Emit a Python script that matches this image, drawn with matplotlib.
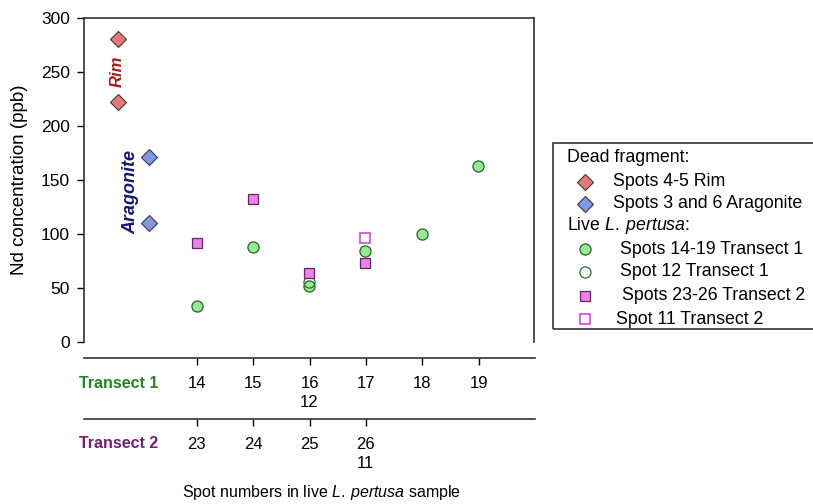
import matplotlib
matplotlib.use("Agg")
import matplotlib.pyplot as plt
from matplotlib.lines import Line2D
from matplotlib.patches import Rectangle

plt.rcParams['font.family'] = ['Liberation Sans', 'DejaVu Sans']
plt.rcParams['mathtext.fontset'] = 'custom'
plt.rcParams['mathtext.rm'] = 'Liberation Sans'
plt.rcParams['mathtext.it'] = 'Liberation Sans:italic'

# data
rim_x = [12.6, 12.6]
rim_y = [281, 222]
arag_x = [13.15, 13.15]
arag_y = [171, 110]
t1_x = [14, 15, 16, 17, 18, 19]
t1_y = [33, 88, 52, 84, 100, 163]
spot12_x = [16]
spot12_y = [56]
t2_x = [14, 15, 16, 17]
t2_y = [92, 132, 64, 73]
spot11_x = [17]
spot11_y = [96]

t1_ticks = [14, 15, 16, 17, 18, 19]
t1_labels = ['14', '15', '16\n12', '17', '18', '19']
t2_ticks = [14, 15, 16, 17]
t2_labels = ['23', '24', '25', '26\n11']

W, H = 813, 504
fig = plt.figure(figsize=(W / 100, H / 100), dpi=100)


def fx(px):
    return px / W


def fy(py):
    return 1 - py / H


ax = fig.add_axes([fx(84), fy(342), fx(534) - fx(84), fy(18) - fy(342)])
ax.set_xlim(12, 20)
ax.set_ylim(0, 300)
ax.spines['bottom'].set_visible(False)
for s in ['left', 'top', 'right']:
    ax.spines[s].set_linewidth(1.2)
    ax.spines[s].set_color('#333333')
ax.set_xticks([])
ax.set_yticks([0, 50, 100, 150, 200, 250, 300])
ax.tick_params(axis='y', direction='out', length=5, width=1, labelsize=12.5, pad=5)
ax.set_ylabel('Nd concentration (ppb)', fontsize=13.5, labelpad=9)

edge = '#3a3a3a'
dms = 7.8
ax.plot(rim_x, rim_y, 'D', ms=dms, mfc='#e8787a', mec=edge, mew=0.8, ls='none')
ax.plot(arag_x, arag_y, 'D', ms=dms, mfc='#7f98e6', mec=edge, mew=0.8, ls='none')
ax.plot(t1_x, t1_y, 'o', ms=8, mfc='#90ee90', mec='#2f5f2f', mew=0.9, ls='none')
ax.plot(spot12_x, spot12_y, 'o', ms=8, mfc='none', mec='#2f6b2f', mew=0.9, ls='none')
ax.plot(t2_x, t2_y, 's', ms=7.2, mfc='#ee80ee', mec='#5a2a5a', mew=0.9, ls='none')
ax.plot(spot11_x, spot11_y, 's', ms=7.2, mfc='white', mec='#e040e0', mew=1.2, ls='none')

ax.text(12.585, 251, 'Rim', rotation=90, color='#b01818', fontsize=12,
        fontweight='bold', fontstyle='italic', ha='center', va='center')
ax.text(12.84, 139, 'Aragonite', rotation=90, color='#14147a', fontsize=13,
        fontweight='bold', fontstyle='italic', ha='center', va='center')


def transect_axis(py, ticks, labels):
    a = fig.add_axes([fx(84), fy(py), fx(535) - fx(84), 0.0001])
    a.set_xlim(12, 20)
    a.set_yticks([])
    for s in ['left', 'top', 'right']:
        a.spines[s].set_visible(False)
    a.spines['bottom'].set_linewidth(1.2)
    a.spines['bottom'].set_color('#333333')
    a.set_xticks(ticks)
    a.set_xticklabels(labels)
    a.tick_params(axis='x', direction='out', length=5, width=1, labelsize=12, pad=8)
    for t in a.get_xticklabels():
        t.set_linespacing(1.3)
    a.patch.set_visible(False)
    return a


transect_axis(358, t1_ticks, t1_labels)
transect_axis(419, t2_ticks, t2_labels)

fig.text(fx(158), fy(383), 'Transect 1', color='#1a8a1a', fontsize=11.5,
         fontweight='bold', ha='right', va='center')
fig.text(fx(158), fy(443), 'Transect 2', color='#7a1a7a', fontsize=11.5,
         fontweight='bold', ha='right', va='center')
fig.text(fx(321), fy(493), 'Spot numbers in live $\\mathit{L.\\:pertusa}$ sample',
         fontsize=11.5, ha='center', va='center')

# legend drawn by hand, box runs off the right edge like the reference
fig.add_artist(Rectangle((fx(553), fy(329)), fx(300), fy(143) - fy(329),
                         transform=fig.transFigure, fill=False,
                         edgecolor='#333333', lw=1.2))

legend_rows = [
    (157, None, 567, 'Dead fragment:'),
    (182, ('D', '#e8787a', edge, dms, 0.8), 613, 'Spots 4-5 Rim'),
    (204, ('D', '#7f98e6', edge, dms, 0.8), 613, 'Spots 3 and 6 Aragonite'),
    (226, None, 567, 'Live $\\mathit{L.\\:pertusa}$:'),
    (249, ('o', '#90ee90', '#2f5f2f', 8, 0.9), 620, 'Spots 14-19 Transect 1'),
    (272, ('o', 'none', '#2f6b2f', 8, 0.9), 620, 'Spot 12 Transect 1'),
    (296, ('s', '#ee80ee', '#5a2a5a', 7.2, 0.9), 622, 'Spots 23-26 Transect 2'),
    (319, ('s', 'white', '#e040e0', 7.2, 1.2), 616, 'Spot 11 Transect 2'),
]
for py, mk, tx, label in legend_rows:
    if mk is not None:
        m, fc, ec, ms, mw = mk
        fig.add_artist(Line2D([fx(585)], [fy(py)], marker=m, ms=ms, mfc=fc,
                              mec=ec, mew=mw, ls='none',
                              transform=fig.transFigure))
    fig.text(fx(tx), fy(py), label, fontsize=12.8, ha='left', va='center')

fig.savefig('out.png', dpi=100)
